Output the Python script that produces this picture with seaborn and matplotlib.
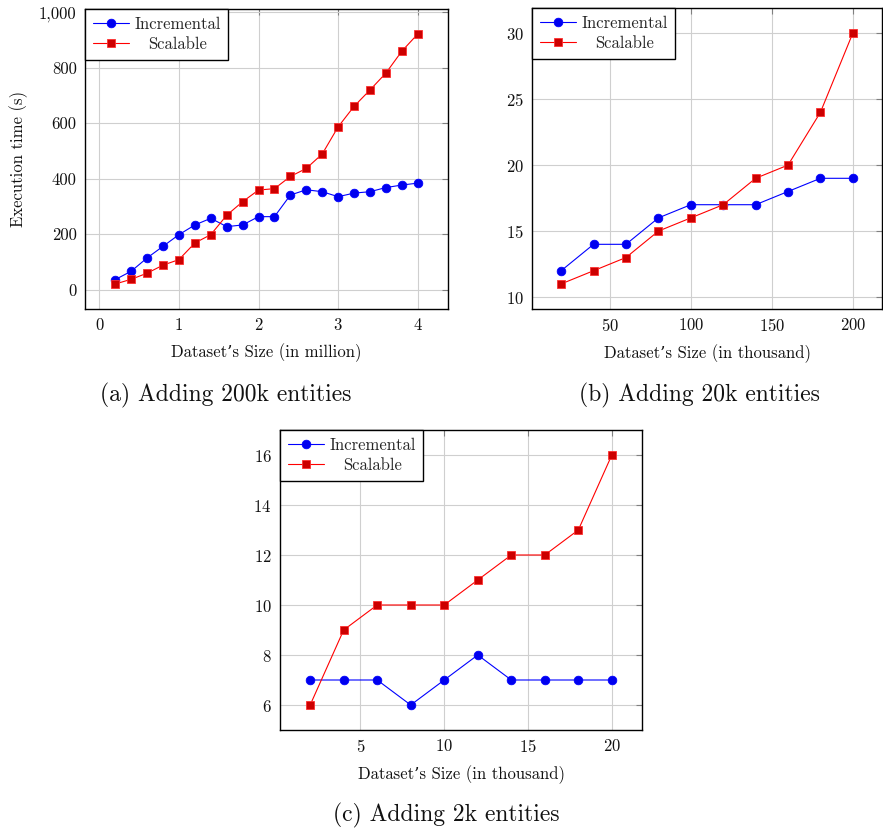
import numpy as np
import pandas as pd
import matplotlib
matplotlib.use("Agg")
import matplotlib.pyplot as plt
import seaborn as sns
from matplotlib.ticker import FuncFormatter

# ---------------- data ----------------
a_x = [0.2, 0.4, 0.6, 0.8, 1.0, 1.2, 1.4, 1.6, 1.8, 2.0,
       2.2, 2.4, 2.6, 2.8, 3.0, 3.2, 3.4, 3.6, 3.8, 4.0]
a_incremental = [36, 66, 114, 156, 198, 233, 257, 227, 233, 263,
                 263, 341, 360, 353, 335, 348, 353, 368, 377, 384]
a_scalable = [20, 37, 59, 88, 108, 168, 198, 268, 317, 359,
              364, 408, 437, 489, 587, 661, 720, 781, 860, 922]

b_x = [20, 40, 60, 80, 100, 120, 140, 160, 180, 200]
b_incremental = [12, 14, 14, 16, 17, 17, 17, 18, 19, 19]
b_scalable = [11, 12, 13, 15, 16, 17, 19, 20, 24, 30]

c_x = [2, 4, 6, 8, 10, 12, 14, 16, 18, 20]
c_incremental = [7, 7, 7, 6, 7, 8, 7, 7, 7, 7]
c_scalable = [6, 9, 10, 10, 10, 11, 12, 12, 13, 16]

a_xticks = [0, 1, 2, 3, 4]
a_yticks = [0, 200, 400, 600, 800, 1000]
b_xticks = [50, 100, 150, 200]
b_yticks = [10, 15, 20, 25, 30]
c_xticks = [5, 10, 15, 20]
c_yticks = [6, 8, 10, 12, 14, 16]

series_names = ["Incremental", "Scalable"]
xlabels = ["Dataset\u2019s Size (in million)", "Dataset\u2019s Size (in thousand)",
           "Dataset\u2019s Size (in thousand)"]
captions = ["(a) Adding 200k entities", "(b) Adding 20k entities", "(c) Adding 2k entities"]
ylabel_a = "Execution time (s)"

# ---------------- style ----------------
sns.set_theme(style="white")
plt.rcParams["font.family"] = ["cmr10", "DejaVu Serif"]
plt.rcParams["axes.formatter.use_mathtext"] = True
plt.rcParams["axes.unicode_minus"] = False

W, H = 883, 834
fig = plt.figure(figsize=(W / 100, H / 100), dpi=100)


def rect(l, t, r, b):
    return [l / W, 1 - b / H, (r - l) / W, (b - t) / H]


def enlarge(vals, f=0.1):
    lo, hi = min(vals), max(vals)
    d = (hi - lo) * f
    return lo - d, hi + d


legends = []


def panel(ax, x, inc, sca, xticks, yticks, xlabel):
    df_i = pd.DataFrame({"x": x, "y": inc})
    df_s = pd.DataFrame({"x": x, "y": sca})
    sns.lineplot(data=df_i, x="x", y="y", ax=ax, color="#0000ff", lw=0.8,
                 marker="o", markersize=6.2, markerfacecolor="#0000ee",
                 markeredgecolor="#0000ff", markeredgewidth=0.6,
                 label=series_names[0], zorder=3)
    sns.lineplot(data=df_s, x="x", y="y", ax=ax, color="#ff0000", lw=0.8,
                 marker="s", markersize=6.0, markerfacecolor="#cc0000",
                 markeredgecolor="#ff3030", markeredgewidth=0.6,
                 label=series_names[1], zorder=3)
    ax.set_xlim(*enlarge(x))
    ax.set_ylim(*enlarge(list(inc) + list(sca)))
    ax.set_xticks(xticks)
    ax.set_yticks(yticks)
    ax.grid(True, color="#cfcfcf", lw=0.8, zorder=0)
    ax.set_axisbelow(True)
    ax.tick_params(direction="in", top=True, right=True, length=4.5, width=0.8,
                   color="#808080", labelsize=12, labelcolor="#111111", pad=6)
    for s in ax.spines.values():
        s.set_color("black")
        s.set_linewidth(1.0)
    ax.set_xlabel(xlabel, fontsize=12, labelpad=7, color="#111111")
    ax.set_ylabel("")
    leg = ax.legend(loc="upper left", borderaxespad=0, fontsize=12, frameon=True,
                    fancybox=False, framealpha=1, edgecolor="black",
                    handlelength=2.2, handletextpad=0.3, borderpad=0.45,
                    labelspacing=0.3)
    leg.get_frame().set_linewidth(1.0)
    leg.set_zorder(5)
    legends.append(leg)
    return ax


ax_a = fig.add_axes(rect(85, 9, 448, 309))
panel(ax_a, a_x, a_incremental, a_scalable, a_xticks, a_yticks, xlabels[0])
ax_a.yaxis.set_major_formatter(FuncFormatter(lambda v, p: f"{v:,.0f}"))
ax_a.set_ylabel(ylabel_a, fontsize=12, labelpad=8, color="#111111")

ax_b = fig.add_axes(rect(532, 8, 882, 309))
panel(ax_b, b_x, b_incremental, b_scalable, b_xticks, b_yticks, xlabels[1])

ax_c = fig.add_axes(rect(280, 430, 642, 730))
panel(ax_c, c_x, c_incremental, c_scalable, c_xticks, c_yticks, xlabels[2])

fig.text(226 / W, 1 - 395 / H, captions[0], ha="center", va="center", fontsize=17, color="#111111")
fig.text(699 / W, 1 - 395 / H, captions[1], ha="center", va="center", fontsize=17, color="#111111")
fig.text(446 / W, 1 - 815 / H, captions[2], ha="center", va="center", fontsize=17, color="#111111")

# center legend labels within their column (pgfplots style)
fig.canvas.draw()
r = fig.canvas.get_renderer()
for leg in legends:
    ws = [t.get_window_extent(r).width for t in leg.get_texts()]
    wmax = max(ws)
    for t, w in zip(leg.get_texts(), ws):
        t.set_x((wmax - w) / 2)

fig.savefig("out.png", dpi=100)
